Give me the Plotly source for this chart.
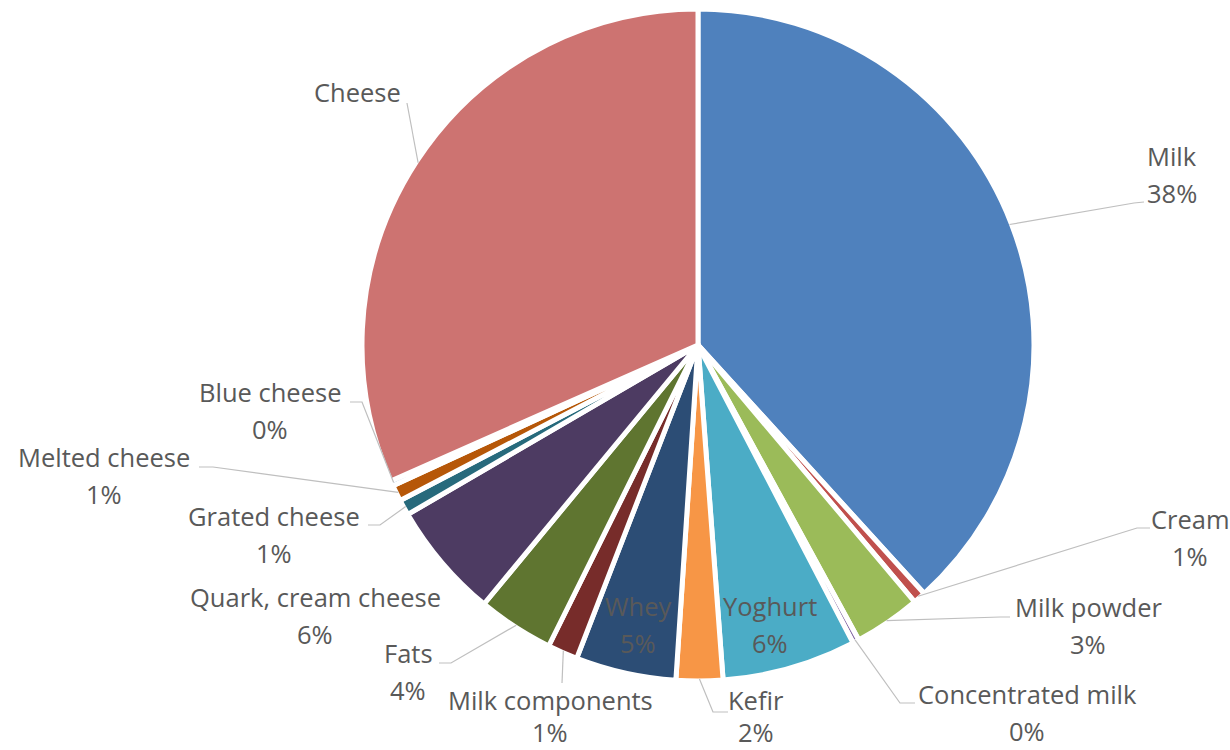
import math
import plotly.graph_objects as go

# ---------------- data ----------------
categories = ["Milk", "Cream", "Milk powder", "Concentrated milk", "Yoghurt", "Kefir",
              "Whey", "Milk components", "Fats", "Quark, cream cheese", "Grated cheese",
              "Melted cheese", "Blue cheese", "Cheese"]
shares = [38.25, 0.6, 3.21, 0.3, 6.45, 2.24, 4.83, 1.45, 3.66, 5.6, 0.75, 0.78, 0.25, 31.63]
colors = ["#4F81BD", "#C0504D", "#9BBB59", "#8064A2", "#4BACC6", "#F79646",
          "#2C4D75", "#772C2A", "#5F7530", "#4D3B62", "#276A7C", "#B65708",
          "#729ACA", "#CD7371"]
show_percent = [True] * 13 + [False]

# ---------------- layout constants (pixels) ----------------
W, H = 1230, 750
CX, CY, R = 698, 345, 336          # pie centre / radius
R_EDGE = 334                       # where leader lines start
FONT = "Open Sans"
FSIZE = 25.5
TXT = "#595959"
LINE_GAP = 37                      # distance between label lines
MAX_Y = 732                        # keep the lowest text lines inside the page

# label centre (x, y of first line) and leader-line points after the slice edge
label_pos = {
    "Milk": (1172, 156),
    "Cream": (1190, 519),
    "Milk powder": (1088, 607),
    "Concentrated milk": (1027, 694),
    "Yoghurt": (770, 606),
    "Kefir": (756, 700),
    "Whey": (638, 606),
    "Milk components": (550, 700),
    "Fats": (408, 653),
    "Quark, cream cheese": (315, 597),
    "Grated cheese": (274, 516),
    "Melted cheese": (104, 457),
    "Blue cheese": (270, 392),
    "Cheese": (357, 92),
}
leader = {
    "Milk": [(1134, 203), (1144, 202)],
    "Cream": [(1137, 528), (1150, 528)],
    "Milk powder": [(1000, 617), (1010, 617)],
    "Concentrated milk": [(900, 703), (915, 703)],
    "Kefir": [(713, 712), (728, 712)],
    "Milk components": [(562, 683)],
    "Fats": [(451, 663), (439, 663)],
    "Grated cheese": [(380, 525), (368, 525)],
    "Melted cheese": [(213, 467), (199, 467)],
    "Blue cheese": [(362, 402), (350, 402)],
    "Cheese": [(407, 103)],
}


def px(x, y):
    return x / W, 1 - y / H


fig = go.Figure(go.Pie(
    labels=categories,
    values=shares,
    sort=False,
    direction="clockwise",
    rotation=0,
    marker=dict(colors=colors, line=dict(color="white", width=5)),
    textinfo="none",
    hoverinfo="label+percent",
    showlegend=False,
    domain=dict(x=[(CX - R) / W, (CX + R) / W], y=[1 - (CY + R) / H, 1 - (CY - R) / H]),
))

total = sum(shares)
annotations = []
shapes = []
cum = 0.0
for name, v, show in zip(categories, shares, show_percent):
    mid = (cum + v / 2) / total
    cum += v
    lx, ly = label_pos[name]
    pct = f"{round(v / total * 100)}%"
    lines = [name, pct] if show else [name]
    for i, t in enumerate(lines):
        ax, ay = px(lx, min(ly + i * LINE_GAP, MAX_Y))
        annotations.append(dict(x=ax, y=ay, xref="paper", yref="paper", text=t,
                                showarrow=False, xanchor="center", yanchor="middle",
                                font=dict(family=FONT, size=FSIZE, color=TXT)))
    if name in leader:
        th = 2 * math.pi * mid
        ex = CX + R_EDGE * math.sin(th)
        ey = CY - R_EDGE * math.cos(th)
        pts = [px(ex, ey)] + [px(a, b) for a, b in leader[name]]
        path = "M " + " L ".join(f"{a:.5f},{b:.5f}" for a, b in pts)
        shapes.append(dict(type="path", path=path, xref="paper", yref="paper",
                           line=dict(color="#BFBFBF", width=1.2)))

fig.update_layout(
    width=W, height=H,
    margin=dict(l=0, r=0, t=0, b=0),
    paper_bgcolor="white",
    plot_bgcolor="white",
    annotations=annotations,
    shapes=shapes,
    font=dict(family=FONT, size=FSIZE, color=TXT),
)

fig.write_html("out.html", config={"displayModeBar": False},
               post_script="document.body.style.margin='0';")
